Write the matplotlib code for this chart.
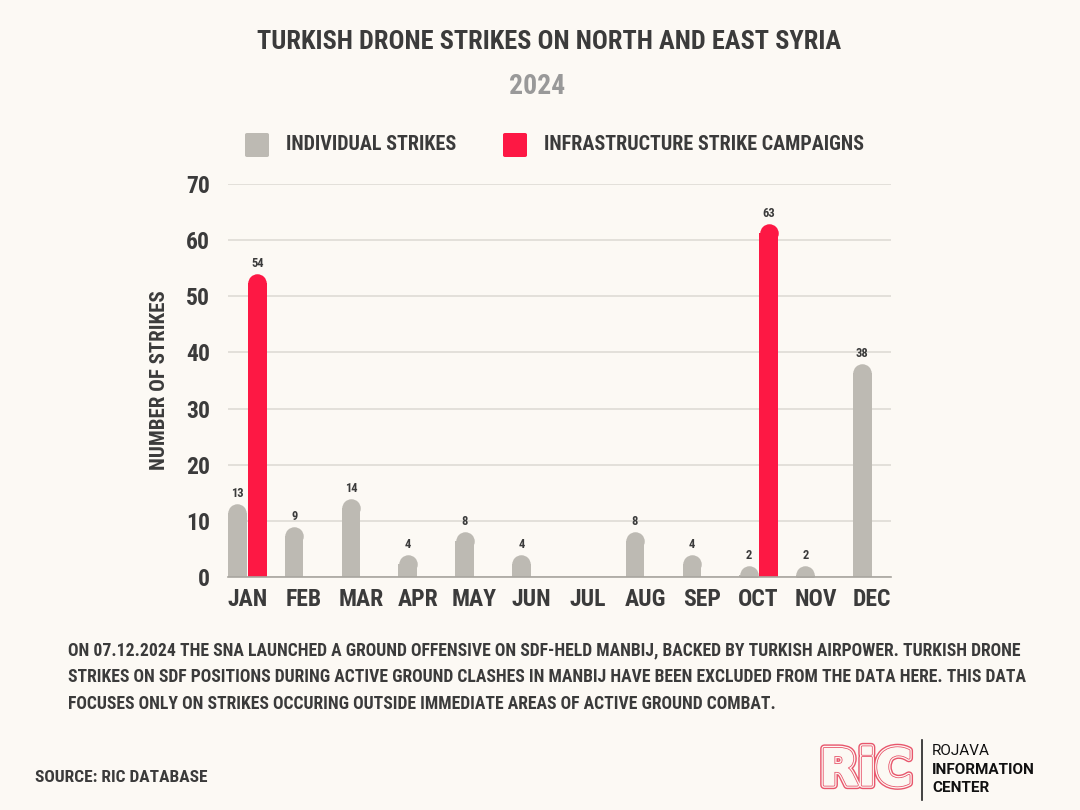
import numpy as np
import matplotlib.pyplot as plt
from matplotlib.patches import FancyBboxPatch
import matplotlib.patheffects as pe

plt.rcParams['font.family'] = ['Roboto Condensed', 'DejaVu Sans']
plt.rcParams['font.weight'] = 'bold'

months = ['JAN', 'FEB', 'MAR', 'APR', 'MAY', 'JUN', 'JUL', 'AUG', 'SEP', 'OCT', 'NOV', 'DEC']
individual = [13, 9, 14, 4, 8, 4, 0, 8, 4, 2, 2, 38]
campaigns = [54, 0, 0, 0, 0, 0, 0, 0, 0, 63, 0, 0]
series_names = ['INDIVIDUAL STRIKES', 'INFRASTRUCTURE STRIKE CAMPAIGNS']

BG = '#fcf9f4'
GREY = '#bdbab3'
RED = '#fd1844'
DARK = '#3b3b3b'

W, H, DPI = 10.8, 8.1, 100
fig = plt.figure(figsize=(W, H), dpi=DPI, facecolor=BG)
ax = fig.add_axes([228 / 1080, 1 - 577 / 810, 663 / 1080, 393 / 810])
ax.set_facecolor(BG)

xlim = (-0.34, 11.33)
ylim = (0, 70)
ax.set_xlim(*xlim)
ax.set_ylim(*ylim)

bw = 0.326
off = 0.176
# radius of the rounded top in data units
ax_w_px = 663
ax_h_px = 393
bw_px = bw * ax_w_px / (xlim[1] - xlim[0])
r = (bw_px / 2) * (ylim[1] - ylim[0]) / ax_h_px
s = (bw_px * 72 / DPI) ** 2


def rounded_bars(xs, vals, color):
    for x, v in zip(xs, vals):
        if v <= 0:
            continue
        ax.bar(x, v - r, width=bw, color=color, linewidth=0, zorder=3)
        ax.scatter([x], [v - r], s=s, color=color, linewidths=0, zorder=3)
        ax.text(x, v + 1.8, str(v), ha='center', va='center', fontsize=9,
                color=DARK, fontweight='bold', zorder=4)


xs = np.arange(len(months))
rounded_bars(xs - off, individual, GREY)
rounded_bars(xs + off, campaigns, RED)

ax.set_yticks(range(0, 71, 10))
ax.grid(axis='y', color='#dedbd5', linewidth=1.2, zorder=0)
ax.set_axisbelow(True)
for sp in ['top', 'right', 'left']:
    ax.spines[sp].set_visible(False)
ax.spines['bottom'].set_color('#a8a59f')
ax.spines['bottom'].set_linewidth(1.2)
ax.spines['bottom'].set_zorder(5)
ax.set_xticks(xs)
ax.set_xticklabels(months)
ax.tick_params(axis='both', length=0, colors=DARK, labelsize=17)
ax.tick_params(axis='y', pad=13)
ax.tick_params(axis='x', pad=8)
for lab in ax.get_xticklabels() + ax.get_yticklabels():
    lab.set_fontweight('bold')
ax.set_ylabel('NUMBER OF STRIKES', fontsize=15, color=DARK, fontweight='bold', labelpad=12)

# titles
fig.text(549 / 1080, 1 - 42 / 810, 'TURKISH DRONE STRIKES ON NORTH AND EAST SYRIA',
         ha='center', va='center', fontsize=19, color=DARK, fontweight='bold')
fig.text(537 / 1080, 1 - 86 / 810, '2024', ha='center', va='center',
         fontsize=20, color='#999999', fontweight='bold')

# legend
for (x0, name, col) in [(245, series_names[0], GREY), (503, series_names[1], RED)]:
    fig.patches.append(FancyBboxPatch((x0 / 1080, 1 - 157 / 810), 24 / 1080, 24 / 810,
                                      boxstyle='round,pad=0,rounding_size=0.002',
                                      transform=fig.transFigure, color=col, linewidth=0))
    fig.text((x0 + 41) / 1080, 1 - 144 / 810, name, ha='left', va='center',
             fontsize=14.5, color=DARK, fontweight='bold')

# footnote
note = ['ON 07.12.2024 THE SNA LAUNCHED A GROUND OFFENSIVE ON SDF-HELD MANBIJ, BACKED BY TURKISH AIRPOWER. TURKISH DRONE',
        'STRIKES ON SDF POSITIONS DURING ACTIVE GROUND CLASHES IN MANBIJ HAVE BEEN EXCLUDED FROM THE DATA HERE. THIS DATA',
        'FOCUSES ONLY ON STRIKES OCCURING OUTSIDE IMMEDIATE AREAS OF ACTIVE GROUND COMBAT.']
for i, line in enumerate(note):
    fig.text(68 / 1080, 1 - (650 + 27 * i) / 810, line, ha='left', va='center',
             fontsize=12.7, color=DARK, fontweight='bold')

fig.text(35 / 1080, 1 - 777 / 810, 'SOURCE: RIC DATABASE', ha='left', va='center',
         fontsize=12.5, color=DARK, fontweight='bold')

# logo
logo_red = '#e8566c'
fig.text(866 / 1080, 1 - 771 / 810, 'RiC', ha='center', va='center', fontsize=36,
         family='DejaVu Sans', fontweight='bold', color=BG,
         path_effects=[pe.Stroke(linewidth=6, foreground=logo_red),
                       pe.Stroke(linewidth=4, foreground=BG),
                       pe.Stroke(linewidth=2.2, foreground=logo_red),
                       pe.Stroke(linewidth=1, foreground=BG),
                       pe.Normal()])
fig.add_artist(plt.Line2D([922 / 1080, 922 / 1080], [1 - 740 / 810, 1 - 800 / 810],
                          transform=fig.transFigure, color='#222222', linewidth=1.2))
fig.text(932 / 1080, 1 - 751 / 810, 'ROJAVA', ha='left', va='center', fontsize=11,
         family='Roboto', fontweight='normal', color='#111111')
fig.text(932 / 1080, 1 - 770 / 810, 'INFORMATION', ha='left', va='center', fontsize=11,
         family='Roboto', fontweight='bold', color='#111111')
fig.text(932 / 1080, 1 - 788 / 810, 'CENTER', ha='left', va='center', fontsize=11,
         family='Roboto', fontweight='bold', color='#111111')

fig.savefig('out.png', dpi=DPI, facecolor=BG)
